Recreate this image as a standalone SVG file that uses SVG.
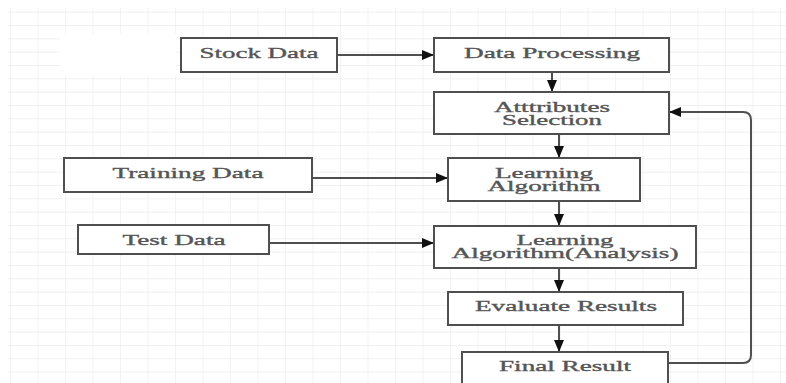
<svg xmlns="http://www.w3.org/2000/svg" width="786" height="383" viewBox="0 0 786 383">
  <defs>
    <pattern id="grid" patternUnits="userSpaceOnUse" x="10" y="11.7" width="27.5" height="13.33">
      <path d="M0 0 H27.5 M0 0 V13.33" fill="none" stroke="#ebebeb" stroke-width="1.2"/>
    </pattern>
    <marker id="arr" viewBox="0 0 12 10" refX="12" refY="5" markerWidth="12" markerHeight="10" markerUnits="userSpaceOnUse" orient="auto">
      <path d="M0 0 L12 5 L0 10 Z" fill="#111"/>
    </marker>
  </defs>
  <style>
    .box { fill: #fff; stroke: #4f4f4f; stroke-width: 2; }
    .lbl { font-family: "Liberation Serif", "Times New Roman", serif; font-size: 15px; fill: #555; stroke: #555; stroke-width: 0.35; text-anchor: middle; }
    .edge { fill: none; stroke: #4f4f4f; stroke-width: 2; marker-end: url(#arr); }
  </style>
  <rect x="0" y="0" width="786" height="383" fill="#fff"/>
  <rect x="8" y="8" width="778" height="375" fill="url(#grid)"/>
  <rect x="60" y="34" width="116" height="42" fill="#fff"/>

  <g id="connectors">
    <path class="edge" d="M337 55 H434"/>
    <path class="edge" d="M552 72 V92"/>
    <path class="edge" d="M559 134 V158"/>
    <path class="edge" d="M312 178 H448"/>
    <path class="edge" d="M559 201 V226"/>
    <path class="edge" d="M269 243 H434"/>
    <path class="edge" d="M559 268 V292"/>
    <path class="edge" d="M559 325 V352"/>
    <path class="edge" d="M668 363 H743 Q751 363 751 355 V120 Q751 112 743 112 H669"/>
  </g>

  <g id="stock-data">
    <rect class="box" x="181" y="38" width="156" height="34"/>
    <text class="lbl" x="259" y="58" textLength="119" lengthAdjust="spacingAndGlyphs">Stock Data</text>
  </g>
  <g id="data-processing">
    <rect class="box" x="434" y="38" width="235" height="34"/>
    <text class="lbl" x="552" y="58" textLength="176" lengthAdjust="spacingAndGlyphs">Data Processing</text>
  </g>
  <g id="attributes-selection">
    <rect class="box" x="434" y="92" width="235" height="42"/>
    <text class="lbl" x="552" y="112" textLength="116" lengthAdjust="spacingAndGlyphs">Atttributes</text>
    <text class="lbl" x="552" y="124.5" textLength="100" lengthAdjust="spacingAndGlyphs">Selection</text>
  </g>
  <g id="training-data">
    <rect class="box" x="64" y="158" width="248" height="34"/>
    <text class="lbl" x="188" y="178" textLength="151" lengthAdjust="spacingAndGlyphs">Training Data</text>
  </g>
  <g id="learning-algorithm">
    <rect class="box" x="448" y="158" width="192" height="43"/>
    <text class="lbl" x="544" y="178" textLength="98" lengthAdjust="spacingAndGlyphs">Learning</text>
    <text class="lbl" x="544" y="191" textLength="113" lengthAdjust="spacingAndGlyphs">Algorithm</text>
  </g>
  <g id="test-data">
    <rect class="box" x="78" y="225" width="191" height="29"/>
    <text class="lbl" x="174" y="245" textLength="103" lengthAdjust="spacingAndGlyphs">Test Data</text>
  </g>
  <g id="learning-algorithm-analysis">
    <rect class="box" x="434" y="226" width="262" height="42"/>
    <text class="lbl" x="565" y="245" textLength="97" lengthAdjust="spacingAndGlyphs">Learning</text>
    <text class="lbl" x="565" y="258" textLength="227" lengthAdjust="spacingAndGlyphs">Algorithm(Analysis)</text>
  </g>
  <g id="evaluate-results">
    <rect class="box" x="448" y="292" width="235" height="33"/>
    <text class="lbl" x="566" y="311" textLength="182" lengthAdjust="spacingAndGlyphs">Evaluate Results</text>
  </g>
  <g id="final-result">
    <rect class="box" x="462" y="352" width="206" height="40"/>
    <text class="lbl" x="565" y="371" textLength="132" lengthAdjust="spacingAndGlyphs">Final Result</text>
  </g>
</svg>
